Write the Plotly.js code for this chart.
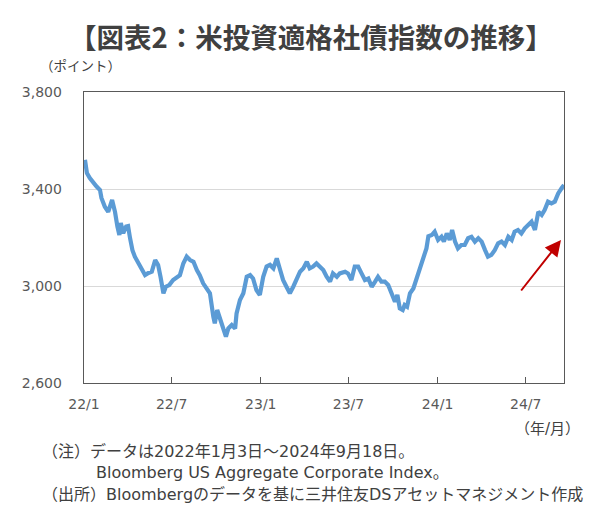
<!DOCTYPE html>
<html>
<head>
<meta charset="utf-8">
<script src="https://cdn.plot.ly/plotly-3.0.1.min.js"></script>
<style>
html,body{margin:0;padding:0;background:#fff;}
#chart{width:600px;height:516px;}
</style>
</head>
<body>
<div id="chart"></div>
<script>
// ---- data ----
const dates2022 = ['2022-01-03','2022-01-07','2022-01-13','2022-01-20','2022-01-27','2022-02-03','2022-02-06','2022-02-13','2022-02-20','2022-02-28',
 '2022-03-06','2022-03-11','2022-03-15','2022-03-18','2022-03-23','2022-03-29','2022-04-02','2022-04-06','2022-04-11','2022-04-16',
 '2022-04-23','2022-04-30','2022-05-07','2022-05-14','2022-05-21','2022-05-28','2022-06-03','2022-06-08','2022-06-14','2022-06-19',
 '2022-06-26','2022-07-04','2022-07-13','2022-07-18','2022-07-25','2022-08-01','2022-08-08','2022-08-15','2022-08-22','2022-08-28',
 '2022-09-04','2022-09-11','2022-09-18','2022-09-25','2022-09-28','2022-10-03','2022-10-09','2022-10-15','2022-10-21','2022-10-26',
 '2022-11-02','2022-11-09','2022-11-12','2022-11-19','2022-11-26','2022-12-03','2022-12-10','2022-12-16','2022-12-23','2022-12-30'];
const values2022 = [3520,3466,3445,3425,3410,3396,3363,3327,3306,3355,
 3306,3245,3210,3260,3218,3245,3247,3198,3148,3121,
 3095,3066,3045,3054,3059,3107,3087,3038,2970,2997,
 3004,3025,3038,3045,3093,3121,3107,3100,3066,3045,
 3011,2990,2970,2874,2846,2901,2860,2825,2791,2825,
 2839,2825,2887,2942,2970,3038,3045,3031,2983,2963];

const dates2023 = ['2023-01-06','2023-01-13','2023-01-20','2023-01-27','2023-02-03','2023-02-10','2023-02-16','2023-02-23','2023-03-02','2023-03-09',
 '2023-03-16','2023-03-23','2023-03-30','2023-04-06','2023-04-12','2023-04-19','2023-04-26','2023-05-03','2023-05-10','2023-05-17',
 '2023-05-24','2023-05-30','2023-06-07','2023-06-13','2023-06-24','2023-06-30','2023-07-07','2023-07-14','2023-07-21','2023-07-28',
 '2023-08-04','2023-08-11','2023-08-18','2023-08-25','2023-08-31','2023-09-07','2023-09-14','2023-09-21','2023-09-28','2023-10-05',
 '2023-10-10','2023-10-15','2023-10-21','2023-10-25','2023-10-30','2023-11-05','2023-11-12','2023-11-19','2023-11-25','2023-12-02',
 '2023-12-09','2023-12-13','2023-12-20','2023-12-26'];
const values2023 = [3038,3080,3087,3073,3114,3066,3025,2997,2970,2997,
 3031,3059,3073,3100,3073,3080,3093,3080,3066,3038,
 3018,3052,3038,3052,3059,3052,3025,3080,3080,3052,
 3025,3031,2997,3018,3038,3018,3018,3004,2963,2935,
 2963,2908,2901,2922,2915,2970,2990,3031,3076,3120,
 3155,3205,3210,3224];

const dates2024 = ['2024-01-02','2024-01-09','2024-01-14','2024-01-20','2024-01-26','2024-01-31','2024-02-06','2024-02-12','2024-02-19','2024-02-26',
 '2024-03-04','2024-03-11','2024-03-18','2024-03-25','2024-04-01','2024-04-08','2024-04-14','2024-04-21','2024-04-28','2024-05-05',
 '2024-05-12','2024-05-19','2024-05-26','2024-06-02','2024-06-08','2024-06-15','2024-06-22','2024-06-29','2024-07-06','2024-07-13',
 '2024-07-20','2024-07-27','2024-08-03','2024-08-09','2024-08-16','2024-08-23','2024-08-30','2024-09-06','2024-09-13','2024-09-18'];
const values2024 = [3190,3203,3183,3217,3190,3231,3183,3155,3169,3169,
 3197,3203,3183,3197,3183,3148,3121,3128,3148,3176,
 3183,3169,3203,3190,3224,3231,3217,3238,3252,3265,
 3231,3306,3293,3313,3348,3341,3348,3382,3403,3417];

const tickDates  = ['2022-01-01','2022-07-01','2023-01-01','2023-07-01','2024-01-01','2024-07-01'];
const tickLabels = ['22/1','22/7','23/1','23/7','24/1','24/7'];
const yTicks = [2600,3000,3400,3800];

const titleText = '【図表2：米投資適格社債指数の推移】';
const yUnit = '（ポイント）';
const xUnit = '（年/月）';
const note1 = '（注）データは2022年1月3日～2024年9月18日。';
const note2 = 'Bloomberg US Aggregate Corporate Index。';
const source = '（出所）Bloombergのデータを基に三井住友DSアセットマネジメント作成';

// ---- chart ----
const xs = dates2022.concat(dates2023, dates2024);
const ys = values2022.concat(values2023, values2024);

const FONT = 'DejaVu Sans, Noto Sans CJK JP, sans-serif';
const JFONT = 'DejaVu Sans, Noto Sans CJK JP, sans-serif';

const trace = {
  type: 'scatter', mode: 'lines', x: xs, y: ys,
  line: {color: '#5B9BD5', width: 4.2},
  hoverinfo: 'skip'
};

const L = 84, R = 36, T = 92, B = 133;
const PW = 600 - L - R, PH = 516 - T - B;
const px = v => (v - L) / PW;
const py = v => (516 - B - v) / PH;

const layout = {
  width: 600, height: 516,
  margin: {l: L, r: R, t: T, b: B, pad: 0},
  paper_bgcolor: '#ffffff', plot_bgcolor: '#ffffff',
  showlegend: false,
  font: {family: FONT, color: '#595959', size: 14},
  title: {
    text: '<b>' + titleText + '</b>',
    font: {family: 'Noto Sans CJK JP, sans-serif', size: 27.5, color: '#404040'},
    x: 0.518, xref: 'container', xanchor: 'center',
    y: 1 - 38/516, yref: 'container', yanchor: 'middle'
  },
  xaxis: {
    type: 'date',
    range: ['2022-01-01', '2024-09-18'],
    tickvals: tickDates, ticktext: tickLabels,
    ticks: 'inside', ticklen: 6, tickwidth: 1, tickcolor: '#595959',
    showline: true, linecolor: '#595959', linewidth: 1.3, mirror: true,
    showgrid: false, zeroline: false,
    tickfont: {family: FONT, size: 14, color: '#595959'},
    ticklabelstandoff: 8
  },
  yaxis: {
    range: [2600, 3800],
    tickvals: yTicks, tickformat: ',d',
    ticks: '',
    showline: true, linecolor: '#595959', linewidth: 1.3, mirror: true,
    showgrid: true, gridcolor: '#d9d9d9', gridwidth: 1,
    zeroline: false,
    tickfont: {family: FONT, size: 14, color: '#595959'},
    ticklabelstandoff: 18
  },
  annotations: [
    {xref: 'paper', yref: 'paper', x: px(38), y: py(66), xanchor: 'left', yanchor: 'middle',
     text: yUnit, showarrow: false, font: {family: JFONT, size: 13.5, color: '#404040'}},
    {xref: 'paper', yref: 'paper', x: px(582), y: py(429), xanchor: 'right', yanchor: 'middle',
     text: xUnit, showarrow: false, font: {family: JFONT, size: 15, color: '#404040'}},
    {xref: 'paper', yref: 'paper', x: px(40), y: py(451), xanchor: 'left', yanchor: 'middle',
     text: note1, showarrow: false, font: {family: JFONT, size: 16, color: '#404040'}},
    {xref: 'paper', yref: 'paper', x: px(94), y: py(472), xanchor: 'left', yanchor: 'middle',
     text: note2, showarrow: false, font: {family: JFONT, size: 16, color: '#404040'}},
    {xref: 'paper', yref: 'paper', x: px(40), y: py(494), xanchor: 'left', yanchor: 'middle',
     text: source, showarrow: false, font: {family: JFONT, size: 16, color: '#404040'}},
    {xref: 'paper', yref: 'paper', x: px(561), y: py(240), text: '',
     showarrow: true, axref: 'pixel', ayref: 'pixel', ax: -41, ay: 52,
     arrowcolor: '#C00000', arrowwidth: 2, arrowhead: 2, arrowsize: 1.6, standoff: 0, startstandoff: 0}
  ]
};

Plotly.newPlot('chart', [trace], layout, {displayModeBar: false, staticPlot: true});
</script>
</body>
</html>
